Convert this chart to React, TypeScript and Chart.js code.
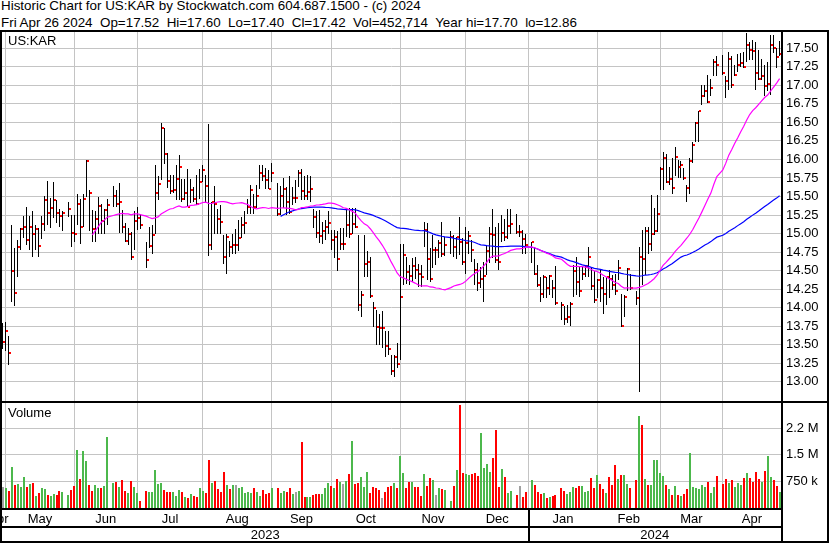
import React, { useEffect, useRef } from "react";
import { Chart, registerables } from "chart.js";

Chart.register(...registerables);

const FONT = '"Liberation Sans", Arial, Helvetica, sans-serif';
const SYMBOL = "US:KAR";
const FIRST_DAY = "2023-04-28";
const LAST_DAY = "2024-04-26";
const HOLIDAYS = [
  "2023-05-29", "2023-06-19", "2023-07-04", "2023-09-04", "2023-11-23",
  "2023-12-25", "2024-01-01", "2024-01-15", "2024-02-19", "2024-03-29",
];
const LAST_OPEN = 17.52;

// one entry per trading day, Apr 28 2023 .. Apr 26 2024
const highs = [
  13.79,
  // May
  13.81, 13.62, 15.12, 14.80, 14.91, 15.07, 15.23, 15.36, 15.23, 15.30, 15.12, 15.07, 15.23, 15.51, 15.71, 15.48, 15.69, 15.45, 15.33, 15.31, 15.42, 15.25,
  // Jun
  15.25, 15.54, 15.46, 15.54, 15.99, 15.59, 15.32, 15.30, 15.49, 15.40, 15.33, 15.46, 15.64, 15.59, 15.68, 15.32, 15.14, 15.08, 15.02, 15.31, 15.36,
  // Jul
  15.27, 14.88, 15.09, 15.12, 15.93, 15.78, 16.49, 16.42, 16.09, 15.79, 15.79, 15.93, 16.06, 15.73, 15.73, 15.87, 15.73, 15.63, 15.79, 15.87,
  // Aug
  15.93, 15.79, 16.48, 15.43, 15.64, 15.33, 15.39, 14.98, 14.99, 14.90, 15.00, 15.06, 15.18, 15.22, 15.30, 15.46, 15.66, 15.54, 15.66, 15.93, 15.93, 15.88, 15.86,
  // Sep
  15.95, 15.68, 15.64, 15.75, 15.63, 15.77, 15.63, 15.72, 15.86, 15.87, 15.77, 15.79, 15.78, 15.33, 15.30, 15.32, 15.16, 15.18, 15.30, 15.05,
  // Oct
  15.05, 15.03, 15.07, 15.07, 15.32, 15.34, 15.34, 15.34, 14.98, 14.22, 14.98, 14.76, 14.69, 14.08, 13.97, 13.92, 13.96, 13.68, 13.68, 13.36, 13.36, 13.52,
  // Nov
  14.86, 14.86, 14.69, 14.58, 14.67, 14.69, 14.59, 14.58, 15.15, 15.14, 14.80, 14.98, 14.82, 14.91, 15.15, 14.95, 15.03, 14.98, 14.96, 15.22, 14.94,
  // Dec
  15.09, 15.03, 14.91, 14.66, 14.60, 14.55, 14.62, 14.85, 15.09, 15.33, 15.09, 15.14, 15.25, 15.20, 15.33, 15.33, 15.27, 15.12, 15.05, 15.00,
  // Jan
  14.89, 14.82, 14.58, 14.42, 14.44, 14.42, 14.44, 14.37, 14.56, 14.07, 14.02, 14.04, 14.07, 14.58, 14.69, 14.56, 14.55, 14.58, 14.82, 14.53, 14.49,
  // Feb
  14.39, 14.51, 14.42, 14.42, 14.51, 14.44, 14.46, 14.64, 14.19, 14.17, 14.53, 14.46, 14.23, 14.82, 15.05, 15.09, 15.09, 15.52, 15.35, 15.52,
  // Mar
  15.90, 16.10, 16.08, 15.90, 16.02, 16.17, 15.99, 15.98, 15.88, 15.66, 16.02, 16.24, 16.51, 16.66, 17.00, 17.00, 17.14, 17.09, 17.36, 17.39,
  // Apr
  17.41, 17.12, 17.45, 17.40, 17.27, 17.42, 17.43, 17.45, 17.70, 17.59, 17.61, 17.59, 17.48, 17.36, 17.28, 17.31, 17.68, 17.68, 17.50, 17.60,
];

const lows = [
  13.44,
  13.41, 13.22, 14.08, 14.02, 14.41, 14.78, 14.94, 14.85, 14.78, 14.69, 14.78, 14.69, 14.92, 15.04, 15.12, 15.07, 15.21, 15.14, 15.09, 15.04, 15.22, 14.82,
  14.88, 15.12, 14.86, 15.09, 15.49, 15.04, 14.89, 14.88, 14.99, 14.99, 14.99, 15.12, 15.36, 15.36, 15.01, 15.01, 14.88, 14.85, 14.64, 14.78, 15.05,
  15.06, 14.53, 14.80, 14.73, 15.00, 15.45, 15.72, 15.94, 15.61, 15.54, 15.55, 15.45, 15.45, 15.42, 15.45, 15.36, 15.41, 15.43, 15.39, 15.46,
  15.70, 15.43, 14.70, 14.78, 15.00, 15.00, 14.99, 14.59, 14.45, 14.69, 14.73, 14.73, 14.76, 14.94, 15.00, 15.27, 15.27, 15.27, 15.34, 15.60, 15.71, 15.60, 15.60,
  15.70, 15.23, 15.25, 15.34, 15.25, 15.27, 15.39, 15.41, 15.63, 15.45, 15.45, 15.45, 15.43, 15.07, 14.94, 14.87, 14.86, 14.91, 15.00, 14.78,
  14.67, 14.49, 14.78, 14.78, 14.96, 14.94, 15.00, 15.07, 13.95, 13.88, 14.42, 14.42, 14.13, 13.74, 13.50, 13.50, 13.45, 13.34, 13.36, 13.09, 13.07, 13.18,
  13.30, 14.31, 14.32, 14.31, 14.35, 14.39, 14.28, 14.28, 14.82, 14.37, 14.35, 14.53, 14.58, 14.67, 14.69, 14.70, 14.73, 14.69, 14.66, 14.71, 14.58,
  14.45, 14.73, 14.62, 14.31, 14.22, 14.26, 14.08, 14.44, 14.60, 14.67, 14.60, 14.51, 14.88, 14.90, 14.93, 15.00, 15.00, 14.96, 14.73, 14.73,
  14.60, 14.44, 14.28, 14.08, 14.13, 14.13, 14.17, 14.13, 14.04, 13.83, 13.77, 13.79, 13.75, 14.15, 14.17, 14.15, 14.37, 14.42, 14.42, 14.24, 14.06,
  14.13, 14.08, 13.92, 14.04, 14.13, 14.24, 14.17, 14.37, 13.74, 13.88, 14.22, 14.24, 14.04, 12.86, 14.31, 14.44, 14.73, 14.76, 14.98, 15.02,
  15.59, 15.59, 15.68, 15.66, 15.54, 15.77, 15.75, 15.75, 15.72, 15.43, 15.54, 15.95, 16.24, 16.24, 16.74, 16.84, 16.76, 16.85, 17.12, 17.12,
  17.14, 16.83, 16.94, 16.96, 17.12, 17.18, 17.25, 17.23, 17.32, 17.34, 17.34, 16.94, 17.07, 17.07, 16.85, 16.92, 16.87, 17.43, 17.23, 17.40,
];

const closes = [
  13.54,
  13.69, 13.39, 14.49, 14.20, 14.82, 15.06, 15.09, 14.91, 15.09, 14.99, 15.06, 14.83, 15.13, 15.45, 15.28, 15.35, 15.45, 15.28, 15.24, 15.28, 15.33, 15.01,
  14.99, 15.40, 15.09, 15.46, 15.98, 15.55, 15.06, 15.19, 15.37, 15.17, 15.32, 15.39, 15.50, 15.40, 15.42, 15.09, 14.90, 14.99, 14.69, 15.17, 15.21,
  15.12, 14.64, 14.83, 14.98, 15.55, 15.67, 16.43, 16.07, 15.71, 15.58, 15.59, 15.74, 15.90, 15.47, 15.55, 15.36, 15.59, 15.46, 15.40, 15.70,
  15.86, 15.64, 14.85, 15.42, 15.40, 15.20, 15.16, 14.68, 14.95, 14.82, 14.85, 14.85, 14.94, 15.11, 15.14, 15.36, 15.59, 15.36, 15.51, 15.82, 15.78, 15.72, 15.60,
  15.82, 15.26, 15.51, 15.60, 15.42, 15.29, 15.48, 15.48, 15.82, 15.58, 15.50, 15.56, 15.60, 15.22, 15.01, 14.97, 15.03, 15.09, 15.14, 14.91,
  14.96, 14.66, 14.86, 14.86, 15.12, 14.99, 15.13, 15.09, 14.03, 14.17, 14.59, 14.62, 14.16, 13.99, 13.74, 13.73, 13.73, 13.48, 13.44, 13.14, 13.33, 13.24,
  14.14, 14.71, 14.48, 14.43, 14.56, 14.51, 14.46, 14.42, 15.05, 14.65, 14.39, 14.78, 14.78, 14.87, 14.73, 14.85, 14.95, 14.82, 14.95, 14.88, 14.62,
  14.87, 14.97, 14.78, 14.51, 14.33, 14.38, 14.43, 14.76, 14.99, 14.98, 14.64, 14.62, 15.01, 14.95, 15.10, 15.13, 15.02, 15.02, 14.92, 14.85,
  14.88, 14.46, 14.31, 14.19, 14.41, 14.27, 14.43, 14.27, 14.06, 14.04, 13.85, 13.88, 14.05, 14.50, 14.34, 14.22, 14.46, 14.56, 14.69, 14.29, 14.10,
  14.37, 14.27, 14.18, 14.41, 14.38, 14.30, 14.22, 14.54, 13.75, 14.14, 14.52, 14.27, 14.13, 14.69, 14.66, 15.04, 14.86, 15.00, 15.04, 15.27,
  15.87, 16.02, 15.70, 15.74, 15.61, 16.03, 15.90, 15.93, 15.75, 15.61, 15.98, 16.20, 16.49, 16.65, 16.86, 16.92, 16.78, 16.97, 17.31, 17.28,
  17.16, 17.06, 17.36, 17.01, 17.14, 17.28, 17.30, 17.25, 17.55, 17.48, 17.46, 17.17, 17.08, 17.12, 16.99, 17.02, 17.55, 17.50, 17.38, 17.42,
];

// thousands of shares
const volumesK = [
  583,
  555, 480, 1170, 650, 678, 593, 885, 593, 678, 706, 339, 433, 555, 536, 367, 339, 395, 367, 480, 461, 367, 508,
  621, 1640, 819, 1610, 1330, 650, 489, 650, 555, 565, 621, 2010, 715, 743, 602, 790, 489, 433, 762, 583, 433,
  207, 489, 461, 461, 1070, 678, 715, 508, 461, 461, 442, 339, 508, 452, 320, 273, 386, 348, 320, 574,
  489, 433, 1360, 715, 772, 527, 461, 1030, 649, 546, 649, 649, 565, 602, 433, 461, 433, 574, 461, 339, 508, 405, 433,
  574, 574, 433, 480, 461, 555, 395, 461, 489, 1870, 320, 320, 320, 367, 395, 395, 395, 565, 715, 621,
  574, 809, 743, 678, 772, 960, 1900, 678, 715, 885, 602, 1030, 433, 583, 565, 508, 292, 461, 583, 630, 696, 574,
  1470, 997, 574, 743, 743, 602, 583, 339, 960, 621, 856, 790, 367, 574, 527, 508, 207, 621, 1070, 2910, 997,
  960, 932, 960, 997, 903, 2130, 1140, 1240, 1030, 1420, 2200, 602, 1100, 885, 433, 489, 367, 621, 320, 461,
  790, 649, 461, 395, 414, 282, 301, 339, 358, 555, 480, 395, 452, 583, 555, 621, 621, 452, 480, 837, 565,
  922, 678, 546, 423, 866, 659, 1210, 809, 922, 922, 678, 555, 790, 2600, 2340, 809, 649, 649, 1360, 1360,
  997, 903, 649, 527, 367, 621, 367, 339, 386, 536, 1540, 583, 555, 546, 649, 583, 743, 433, 593, 903,
  678, 819, 715, 790, 583, 715, 640, 837, 997, 856, 743, 1030, 819, 734, 1050, 1470, 885, 790, 621, 452.714,
];

const PRICE_TICKS = [13.0, 13.25, 13.5, 13.75, 14.0, 14.25, 14.5, 14.75, 15.0, 15.25, 15.5, 15.75, 16.0, 16.25, 16.5, 16.75, 17.0, 17.25, 17.5];
const VOLUME_TICKS = [750000, 1500000, 2250000];
const VOLUME_TICK_LABELS = ["750 k", "1.5 M", "2.2 M"];
const MONTHS = ["Jan", "Feb", "Mar", "Apr", "May", "Jun", "Jul", "Aug", "Sep", "Oct", "Nov", "Dec"];
const DAYS = ["Sun", "Mon", "Tue", "Wed", "Thu", "Fri", "Sat"];
const FAST_MA = 30;
const SLOW_MA = 90;

// view window (weekday units) and value ranges
const X_MIN = -0.24;
const X_MAX = 260.47;
const PRICE_MIN = 12.74;
const PRICE_MAX = 17.72;
const VOLUME_MAX = 2964000;

const GRID = "#c4c4c4";
const VOL_UP = "#4cb84c";
const VOL_DOWN = "#ff0000";
const VOL_FLAT = "#a0a0a0";

function buildCalendar() {
  const hol = new Set(HOLIDAYS);
  const slots: number[] = [];
  const boundaries: { w: number; month: number; year: number }[] = [];
  const d = new Date(FIRST_DAY + "T00:00:00Z");
  const end = new Date(LAST_DAY + "T00:00:00Z");
  let w = -1;
  while (d.getTime() <= end.getTime()) {
    const dow = d.getUTCDay();
    const iso = d.toISOString().slice(0, 10);
    if (dow !== 0 && dow !== 6) {
      w++;
      if (!hol.has(iso)) slots.push(w);
    }
    if (d.getUTCDate() === 1) boundaries.push({ w: Math.max(w, 0), month: d.getUTCMonth(), year: d.getUTCFullYear() });
    d.setUTCDate(d.getUTCDate() + 1);
  }
  return { slots, boundaries };
}

const CAL = buildCalendar();

function sma(values: number[], period: number) {
  const out: { x: number; y: number }[] = [];
  let sum = 0;
  for (let i = 0; i < values.length; i++) {
    sum += values[i];
    if (i >= period) sum -= values[i - period];
    if (i >= period - 1) out.push({ x: CAL.slots[i], y: sum / period });
  }
  return out;
}

function fixAxis(width: number) {
  return (s: any) => {
    s.width = width;
    s.paddingTop = 0;
    s.paddingBottom = 0;
  };
}
function fixX(s: any) {
  s.height = 0;
  s.paddingLeft = 0;
  s.paddingRight = 0;
}

// snap bar / marker elements to whole device pixels so the 1-2px marks stay crisp
const snapPixels = {
  id: "snapPixels",
  beforeDatasetsDraw(chart: any) {
    chart.ctx.imageSmoothingEnabled = false;
    chart.data.datasets.forEach((ds: any, i: number) => {
      const meta = chart.getDatasetMeta(i);
      if (ds.snap === "line1") {
        meta.data.forEach((el: any) => {
          el.x = Math.floor(el.x) + 0.5;
          el.y = Math.round(el.y);
          if (el.base !== undefined) el.base = Math.round(el.base);
        });
      } else if (ds.snap === "bar2") {
        meta.data.forEach((el: any) => {
          el.x = Math.round(el.x);
          el.y = Math.round(el.y);
          el.base = Math.round(el.base);
        });
      }
    });
  },
};

// vertical month grid lines, at the first weekday of each month
const monthGrid = {
  id: "monthGrid",
  beforeDatasetsDraw(chart: any) {
    const { ctx, chartArea } = chart;
    const x = chart.scales.x;
    ctx.save();
    ctx.fillStyle = GRID;
    CAL.boundaries.forEach((b) => {
      const px = Math.floor(x.getPixelForValue(b.w));
      ctx.fillRect(px, chartArea.top, 1, chartArea.bottom - chartArea.top);
    });
    ctx.restore();
  },
};

function headerLines() {
  const last = closes.length - 1;
  const d = new Date(LAST_DAY + "T00:00:00Z");
  const yh = Math.max(...highs);
  const yl = Math.min(...lows);
  const vol = Math.round(volumesK[last] * 1000).toLocaleString("en-US");
  const line1 = `Historic Chart for ${SYMBOL} by Stockwatch.com 604.687.1500 - (c) ${d.getUTCFullYear()}`;
  const line2 =
    `${DAYS[d.getUTCDay()]} ${MONTHS[d.getUTCMonth()]} ${d.getUTCDate()} ${d.getUTCFullYear()}  ` +
    `Op=${LAST_OPEN.toFixed(2)}  Hi=${highs[last].toFixed(2)}  Lo=${lows[last].toFixed(2)}  Cl=${closes[last].toFixed(2)}  ` +
    `Vol=${vol}  Year hi=${yh.toFixed(2)}  lo=${yl.toFixed(2)}`;
  return [line1, line2];
}

const xScale = () => ({
  type: "linear",
  min: X_MIN,
  max: X_MAX,
  offset: false,
  afterFit: fixX,
  ticks: { display: false },
  grid: { display: false },
  border: { display: false },
});

export default function App() {
  const priceRef = useRef<HTMLCanvasElement>(null);
  const volRef = useRef<HTMLCanvasElement>(null);

  useEffect(() => {
    Chart.defaults.font.family = FONT;
    const tick = document.createElement("canvas");
    tick.width = 5;
    tick.height = 2;
    const tctx = tick.getContext("2d")!;
    tctx.fillStyle = "#ff0000";
    tctx.fillRect(3, 0, 2, 2);

    const rangeData = closes.map((_, i) => ({ x: CAL.slots[i], y: [lows[i], highs[i]] }));
    const closeData = closes.map((c, i) => ({ x: CAL.slots[i], y: c }));

    const price = new Chart(priceRef.current!, {
      type: "bar",
      data: {
        datasets: [
          { type: "line", data: sma(closes, FAST_MA) as any, borderColor: "#ff00ff", borderWidth: 1.2, pointRadius: 0, order: 0 },
          { type: "line", data: sma(closes, SLOW_MA) as any, borderColor: "#0000ff", borderWidth: 1.2, pointRadius: 0, order: 0 },
          { type: "scatter", data: closeData as any, pointStyle: tick as any, pointRadius: 2, order: 1, snap: "line1" } as any,
          { type: "bar", data: rangeData as any, backgroundColor: "#000", barThickness: 1, inflateAmount: 0, order: 2, snap: "line1" } as any,
        ],
      },
      options: {
        animation: false,
        responsive: false,
        devicePixelRatio: 1,
        events: [],
        layout: { autoPadding: false, padding: { left: 2, right: 0, top: 0, bottom: 0 } },
        plugins: { legend: { display: false }, tooltip: { enabled: false } },
        scales: {
          x: xScale(),
          y: {
            position: "right",
            min: PRICE_MIN,
            max: PRICE_MAX,
            afterBuildTicks: (s: any) => {
              s.ticks = PRICE_TICKS.map((v) => ({ value: v }));
            },
            afterFit: fixAxis(49),
            ticks: { color: "#000", font: { size: 13 }, padding: 5, callback: (v: any) => Number(v).toFixed(2) },
            grid: { color: GRID, drawTicks: false },
            border: { display: false },
          },
        },
      },
      plugins: [monthGrid, snapPixels],
    } as any);

    const volColors = volumesK.map((_, i) =>
      i === 0 || closes[i] === closes[i - 1] ? VOL_FLAT : closes[i] > closes[i - 1] ? VOL_UP : VOL_DOWN
    );

    const bottomLabels = {
      id: "bottomLabels",
      afterDraw(chart: any) {
        const { ctx, chartArea } = chart;
        const x = chart.scales.x;
        const L = chartArea.left;
        const R = chartArea.right;
        const B = chartArea.bottom;
        const bpx = CAL.boundaries.map((b) => x.getPixelForValue(b.w));
        ctx.save();
        ctx.beginPath();
        ctx.rect(L, B, R - L, chart.height - B);
        ctx.clip();
        ctx.font = `13px ${FONT}`;
        ctx.fillStyle = "#000";
        ctx.textAlign = "center";
        ctx.textBaseline = "alphabetic";
        const starts = [L - 11, ...bpx];
        const ends = [...bpx, R];
        const firstMonth = (CAL.boundaries[0].month + 11) % 12;
        starts.forEach((s, k) => {
          const m = k === 0 ? firstMonth : CAL.boundaries[k - 1].month;
          ctx.fillText(MONTHS[m], (s + ends[k]) / 2, B + 14.5);
        });
        const yearB = CAL.boundaries.filter((b) => b.month === 0).map((b) => x.getPixelForValue(b.w));
        const ys = [L, ...yearB];
        const ye = [...yearB, R];
        const firstYear = Number(FIRST_DAY.slice(0, 4));
        ys.forEach((s, k) => ctx.fillText(String(firstYear + k), (s + ye[k]) / 2, B + 31));
        yearB.forEach((p) => ctx.fillRect(Math.round(p) - 1, B, 2, chart.height - B));
        ctx.restore();
      },
    };

    const vol = new Chart(volRef.current!, {
      type: "bar",
      data: {
        datasets: [
          {
            data: volumesK.map((v, i) => ({ x: CAL.slots[i], y: v * 1000 })) as any,
            backgroundColor: volColors,
            barThickness: 2,
            inflateAmount: 0,
            snap: "bar2",
          } as any,
        ],
      },
      options: {
        animation: false,
        responsive: false,
        devicePixelRatio: 1,
        events: [],
        layout: { autoPadding: false, padding: { left: 2, right: 0, top: 0, bottom: 35 } },
        plugins: { legend: { display: false }, tooltip: { enabled: false } },
        scales: {
          x: xScale(),
          y: {
            position: "right",
            min: 0,
            max: VOLUME_MAX,
            afterBuildTicks: (s: any) => {
              s.ticks = VOLUME_TICKS.map((v) => ({ value: v }));
            },
            afterFit: fixAxis(49),
            ticks: {
              color: "#000",
              font: { size: 13 },
              padding: 5,
              callback: (v: any) => VOLUME_TICK_LABELS[VOLUME_TICKS.indexOf(Number(v))] ?? "",
            },
            grid: { color: GRID, drawTicks: false },
            border: { display: false },
          },
        },
      },
      plugins: [monthGrid, snapPixels, bottomLabels],
    } as any);

    return () => {
      price.destroy();
      vol.destroy();
    };
  }, []);

  const [line1, line2] = headerLines();
  const line = (l: number, t: number, w: number, h: number) => (
    <div style={{ position: "absolute", left: l, top: t, width: w, height: h, background: "#000" }} />
  );
  const text: React.CSSProperties = { position: "absolute", fontSize: 13, lineHeight: "13px", whiteSpace: "pre", color: "#000" };

  return (
    <div style={{ position: "absolute", left: 0, top: 0, width: 830, height: 543, background: "#fff", overflow: "hidden", fontFamily: FONT }}>
      <div style={{ ...text, left: 1, top: -1, fontSize: 13.4 }}>{line1}</div>
      <div style={{ ...text, left: 1, top: 16, fontSize: 13.4 }}>{line2}</div>
      <canvas ref={priceRef} width={830} height={369} style={{ position: "absolute", left: 0, top: 32, width: 830, height: 369 }} />
      <canvas ref={volRef} width={830} height={140} style={{ position: "absolute", left: 0, top: 403, width: 830, height: 140 }} />
      <div style={{ ...text, left: 8, top: 34 }}>{SYMBOL}</div>
      <div style={{ ...text, left: 8, top: 406 }}>Volume</div>
      {line(0, 30, 829, 2)}
      {line(0, 30, 2, 513)}
      {line(827, 30, 2, 513)}
      {line(781, 30, 2, 513)}
      {line(0, 401, 829, 2)}
      {line(0, 508, 783, 2)}
      {line(0, 526, 783, 2)}
      {line(0, 541, 829, 2)}
    </div>
  );
}
